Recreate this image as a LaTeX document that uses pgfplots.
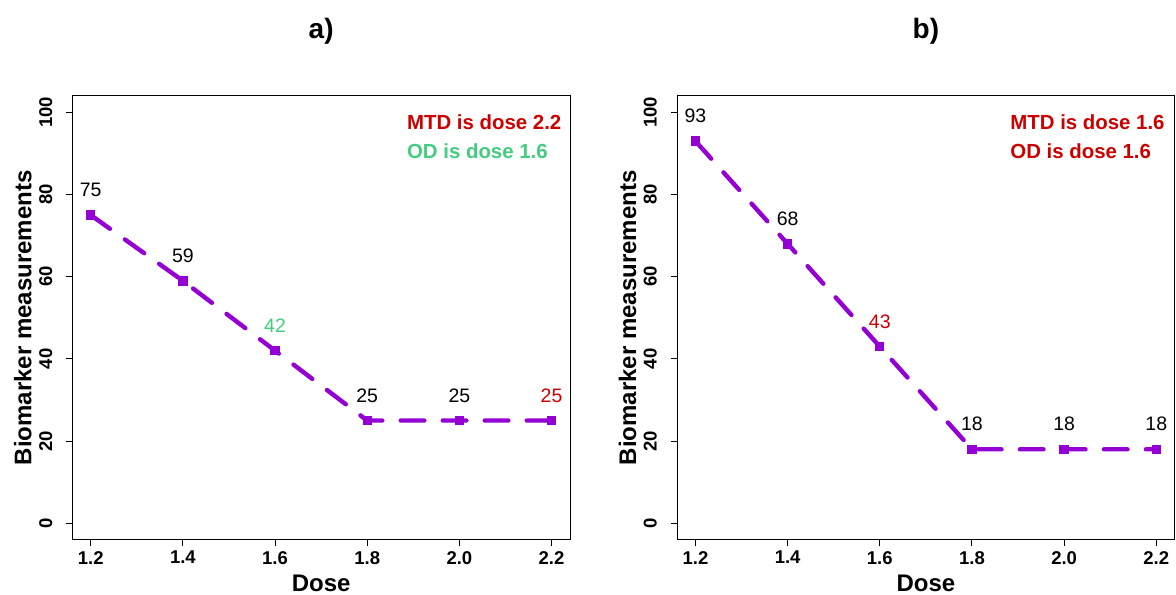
\documentclass[border=0pt]{standalone}
\usepackage{pgfplots}
\pgfplotsset{compat=1.18}
\usepackage{pgfplotstable}
\usepackage{fontspec}
\setmainfont{Liberation Sans}

\definecolor{dviolet}{RGB}{148,0,211}
\definecolor{odgreen}{RGB}{67,205,128}
\definecolor{mtdred}{RGB}{205,0,0}

% tone: 0 = black, 1 = optimal dose (green), 2 = flagged dose (red)
\pgfplotstableread{
dose value tone
1.2 75 0
1.4 59 0
1.6 42 1
1.8 25 0
2.0 25 0
2.2 25 2
}\panela
\pgfplotstableread{
dose value tone
1.2 93 0
1.4 68 0
1.6 43 2
1.8 18 0
2.0 18 0
2.2 18 0
}\panelb

\pgfplotsset{
  doseaxis/.style={
    scale only axis, width=248.85pt, height=221.9pt,
    xmin=1.16, xmax=2.24, ymin=-4, ymax=104,
    xtick={1.2,1.4,1.6,1.8,2.0,2.2},
    xticklabels={1.2,1.4,1.6,1.8,2.0,2.2},
    ytick={0,20,40,60,80,100},
    yticklabels={0,20,40,60,80,100},
    tick pos=left, tick align=outside, major tick length=3.25pt,
    tick style={black, line width=0.5pt},
    axis line style={black, line width=0.5pt},
    ticklabel style={font=\bfseries\fontsize{9.25}{10}\selectfont},
    xticklabel style={anchor=north, inner sep=0pt},
    xticklabel shift=2.25pt,
    yticklabel style={rotate=90, anchor=south, inner sep=0pt},
    yticklabel shift=6.6pt,
    clip=false,
    /pgf/number format/assume math mode=true,
  },
  doseline/.style={
    dviolet, line width=2.2pt, line cap=round,
    dash pattern=on 11.8pt off 9.2pt,
    mark=square*, mark size=2.1pt, mark options={solid, line width=0.5pt},
  },
  % value labels above the points, one colour per tone
  doselabels/.style={
    draw=none, mark=none, point meta=y,
    restrict expr to domain={\thisrow{tone}}{#1:#1},
    nodes near coords,
    every node near coord/.style={anchor=base, yshift=9.15pt, inner sep=0pt,
      font=\fontsize{9.75}{11}\selectfont},
  },
}
\tikzset{
  panelnote/.style={anchor=base west, inner sep=0pt,
    font=\bfseries\fontsize{10.2}{12}\selectfont},
  paneltitle/.style={anchor=base, inner sep=0pt,
    font=\bfseries\fontsize{14}{16}\selectfont},
  axlabel/.style={anchor=base, inner sep=0pt,
    font=\bfseries\fontsize{12}{14}\selectfont},
}

\begin{document}
\begin{tikzpicture}
\path[use as bounding box] (0,0) rectangle (588pt,297pt);

\begin{axis}[doseaxis, at={(36.15pt,27.15pt)}, anchor=south west]
  \addplot[doseline] table[x=dose, y=value] {\panela};
  \addplot[doselabels=0, black] table[x=dose, y=value] {\panela};
  \addplot[doselabels=1, odgreen] table[x=dose, y=value] {\panela};
  \addplot[doselabels=2, mtdred] table[x=dose, y=value] {\panela};
  \node[paneltitle] at ([yshift=28.5pt]rel axis cs:0.5,1) {a)};
  \node[axlabel] at ([yshift=-25.65pt]rel axis cs:0.5,0) {Dose};
  \node[axlabel, rotate=90] at ([xshift=-20.5pt]rel axis cs:0,0.5) {Biomarker measurements};
  \node[panelnote, text=mtdred] at ([xshift=167.2pt, yshift=-17.05pt]rel axis cs:0,1) {MTD is dose 2.2};
  \node[panelnote, text=odgreen] at ([xshift=167.2pt, yshift=-31.2pt]rel axis cs:0,1) {OD is dose 1.6};
\end{axis}

\begin{axis}[doseaxis, at={(338.5pt,27.15pt)}, anchor=south west]
  \addplot[doseline] table[x=dose, y=value] {\panelb};
  \addplot[doselabels=0, black] table[x=dose, y=value] {\panelb};
  \addplot[doselabels=2, mtdred] table[x=dose, y=value] {\panelb};
  \node[paneltitle] at ([yshift=28.5pt]rel axis cs:0.5,1) {b)};
  \node[axlabel] at ([yshift=-25.65pt]rel axis cs:0.5,0) {Dose};
  \node[axlabel, rotate=90] at ([xshift=-20.5pt]rel axis cs:0,0.5) {Biomarker measurements};
  \node[panelnote, text=mtdred] at ([xshift=166.5pt, yshift=-17.05pt]rel axis cs:0,1) {MTD is dose 1.6};
  \node[panelnote, text=mtdred] at ([xshift=166.5pt, yshift=-31.2pt]rel axis cs:0,1) {OD is dose 1.6};
\end{axis}
\end{tikzpicture}
\end{document}
